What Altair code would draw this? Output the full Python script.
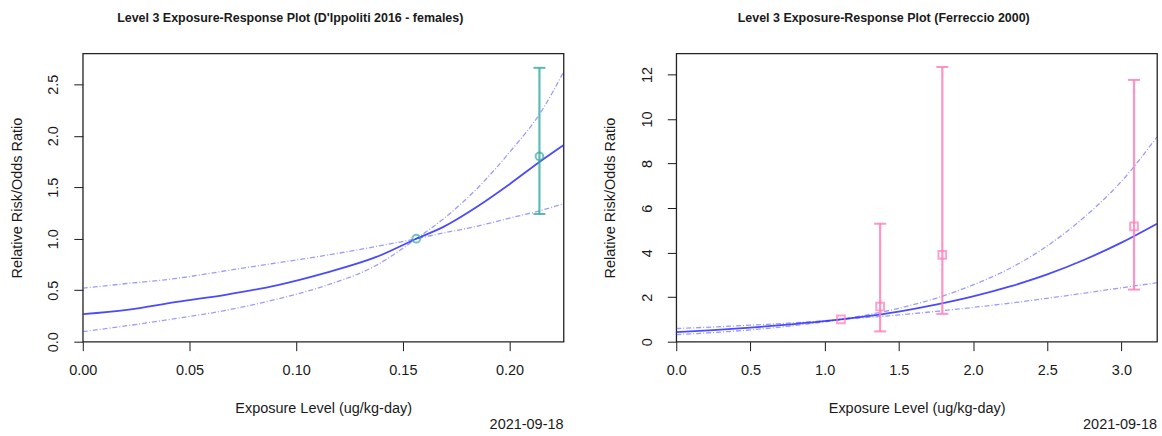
import altair as alt
import pandas as pd

# ---------------- shared text ----------------
X_TITLE = "Exposure Level (ug/kg-day)"
Y_TITLE = "Relative Risk/Odds Ratio"
DATE = "2021-09-18"

# ---------------- left panel: D'Ippoliti 2016 - females ----------------
L_TITLE = "Level 3 Exposure-Response Plot (D'Ippoliti 2016 - females)"
L_CURVE_X = [0.0, 0.0207, 0.0441, 0.0675, 0.0909, 0.1142, 0.1376, 0.1563, 0.1688, 0.1844, 0.2, 0.2156, 0.2253]
L_FIT =     [0.268, 0.31, 0.387, 0.458, 0.548, 0.671, 0.823, 1.0, 1.113, 1.306, 1.53, 1.77, 1.91]
L_BOUND_FLAT =  [0.52, 0.565, 0.615, 0.69, 0.765, 0.84, 0.925, 1.0, 1.055, 1.12, 1.2, 1.28, 1.34]
L_BOUND_STEEP = [0.097, 0.155, 0.226, 0.306, 0.413, 0.548, 0.742, 1.0, 1.19, 1.48, 1.84, 2.26, 2.62]
L_PT_X =  [0.1563, 0.214]
L_PT_Y =  [1.0, 1.8]
L_PT_LO = [1.0, 1.24]
L_PT_HI = [1.0, 2.66]
L_XTICKS = [0, 0.05, 0.1, 0.15, 0.2]
L_YTICKS = [0, 0.5, 1.0, 1.5, 2.0, 2.5]
L_XDOMAIN = [0, 0.2253]
L_YDOMAIN = [0, 2.8]

# ---------------- right panel: Ferreccio 2000 ----------------
R_TITLE = "Level 3 Exposure-Response Plot (Ferreccio 2000)"
R_CURVE_X = [0.0, 0.25, 0.5, 0.75, 1.0, 1.11, 1.25, 1.5, 1.75, 2.0, 2.25, 2.5, 2.75, 3.0, 3.24]
R_FIT =     [0.43, 0.52, 0.63, 0.77, 0.92, 1.0, 1.11, 1.35, 1.66, 2.03, 2.48, 3.02, 3.68, 4.45, 5.3]
R_BOUND_FLAT =  [0.59, 0.66, 0.74, 0.83, 0.94, 1.0, 1.07, 1.2, 1.36, 1.54, 1.73, 1.95, 2.18, 2.42, 2.65]
R_BOUND_STEEP = [0.32, 0.41, 0.53, 0.69, 0.89, 1.0, 1.16, 1.5, 1.95, 2.55, 3.3, 4.3, 5.6, 7.2, 9.2]
R_PT_X =  [1.11, 1.374, 1.793, 3.085]
R_PT_Y =  [1.0, 1.58, 3.9, 5.18]
R_PT_LO = [1.0, 0.46, 1.25, 2.34]
R_PT_HI = [1.0, 5.3, 12.34, 11.76]
R_XTICKS = [0, 0.5, 1.0, 1.5, 2.0, 2.5, 3.0]
R_YTICKS = [0, 2, 4, 6, 8, 10, 12]
R_XDOMAIN = [0, 3.24]
R_YDOMAIN = [0, 12.95]

W, H = 482, 289
FONT = "Liberation Sans"
TXT = "#1a1a1a"


def panel(title, cx, fit, flat, steep, px, py, plo, phi, xt, yt, xdom, ydom,
          xfmt, yfmt, color, shape):
    xs = alt.Scale(domain=xdom, nice=False, zero=False)
    ys = alt.Scale(domain=ydom, nice=False, zero=False)
    xax = alt.Axis(values=xt, format=xfmt, title=X_TITLE, grid=False, domain=False,
                   tickSize=9, tickColor=TXT, labelColor=TXT, labelFont=FONT,
                   labelFontSize=14.5, labelPadding=20, labelBaseline="middle",
                   labelAlign="center", labelFlush=False, labelOverlap=False,
                   titleFont=FONT, titleFontSize=14.5, titleFontWeight="normal",
                   titleColor=TXT, titleY=67, titleBaseline="middle")
    yax = alt.Axis(values=yt, format=yfmt, title=Y_TITLE, grid=False, domain=False,
                   tickSize=9, tickColor=TXT, labelColor=TXT, labelFont=FONT,
                   labelFontSize=14.5, labelPadding=13, labelAngle=-90,
                   labelAlign="center", labelBaseline="bottom", labelFlush=False,
                   labelOverlap=False,
                   titleFont=FONT, titleFontSize=14.5, titleFontWeight="normal",
                   titleColor=TXT, titleX=-65.5, titleY=H / 2, titleAngle=270,
                   titleAlign="center", titleBaseline="middle")
    X = alt.X("x:Q", scale=xs, axis=xax)

    def line_df(vals):
        return pd.DataFrame({"x": cx, "y": vals})

    fit_l = alt.Chart(line_df(fit)).mark_line(
        color="#2a2aff", strokeWidth=1.8, opacity=0.85, clip=True,
        interpolate="monotone"
    ).encode(x=X, y=alt.Y("y:Q", scale=ys, axis=yax))
    flat_l = alt.Chart(line_df(flat)).mark_line(
        color="#4a4aff", strokeWidth=1.3, opacity=0.55, strokeDash=[5, 2, 1, 2], clip=True,
        interpolate="monotone"
    ).encode(x=X, y=alt.Y("y:Q", scale=ys, axis=yax))
    steep_l = alt.Chart(line_df(steep)).mark_line(
        color="#4a4aff", strokeWidth=1.3, opacity=0.55, strokeDash=[5, 2, 1, 2], clip=True,
        interpolate="monotone"
    ).encode(x=X, y=alt.Y("y:Q", scale=ys, axis=yax))

    pts = pd.DataFrame({"x": px, "y": py, "lo": plo, "hi": phi})
    pbase = alt.Chart(pts)
    bars = pbase.transform_filter("datum.hi > datum.lo").mark_rule(
        color=color, strokeWidth=2.2, opacity=0.8
    ).encode(x=X, y=alt.Y("lo:Q", scale=ys, axis=yax), y2="hi:Q")
    cap_lo = pbase.transform_filter("datum.hi > datum.lo").mark_tick(
        color=color, orient="horizontal", size=12, thickness=2, opacity=0.8
    ).encode(x=X, y=alt.Y("lo:Q", scale=ys, axis=yax))
    cap_hi = pbase.transform_filter("datum.hi > datum.lo").mark_tick(
        color=color, orient="horizontal", size=12, thickness=2, opacity=0.8
    ).encode(x=X, y=alt.Y("hi:Q", scale=ys, axis=yax))
    marks = pbase.mark_point(
        shape=shape, size=60, filled=False, color=color, strokeWidth=2, opacity=0.7
    ).encode(x=X, y=alt.Y("y:Q", scale=ys, axis=yax))

    ttl = alt.Chart(pd.DataFrame({"t": [title]})).mark_text(
        font=FONT, fontSize=12.5, fontWeight="bold", color=TXT,
        align="center", baseline="middle"
    ).encode(text="t:N", x=alt.value(208), y=alt.value(-36))
    date = alt.Chart(pd.DataFrame({"t": [DATE]})).mark_text(
        font=FONT, fontSize=14.5, color=TXT, align="right", baseline="middle"
    ).encode(text="t:N", x=alt.value(W), y=alt.value(H + 84))

    return alt.layer(flat_l, steep_l, fit_l, bars, cap_lo, cap_hi, marks, ttl, date).properties(
        width=W, height=H
    )


left = panel(L_TITLE, L_CURVE_X, L_FIT, L_BOUND_FLAT, L_BOUND_STEEP,
             L_PT_X, L_PT_Y, L_PT_LO, L_PT_HI, L_XTICKS, L_YTICKS,
             L_XDOMAIN, L_YDOMAIN, ".2f", ".1f", "#36aaa0", "circle")
right = panel(R_TITLE, R_CURVE_X, R_FIT, R_BOUND_FLAT, R_BOUND_STEEP,
              R_PT_X, R_PT_Y, R_PT_LO, R_PT_HI, R_XTICKS, R_YTICKS,
              R_XDOMAIN, R_YDOMAIN, ".1f", "d", "#ff7ab8", "square")

chart = alt.hconcat(left, right, spacing=113, bounds="flush").properties(
    padding={"left": 8, "top": 10, "right": 4, "bottom": 2},
    background="white"
).configure_view(stroke="#222222", strokeWidth=1.3)

chart.save("out.html", embed_options={"renderer": "svg", "actions": False})
